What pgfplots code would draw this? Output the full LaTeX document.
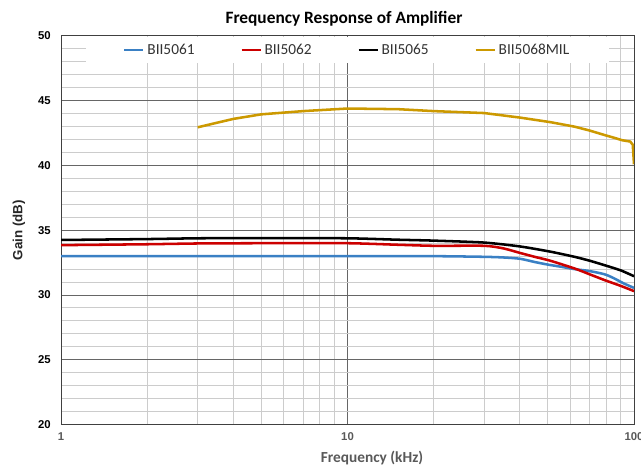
\documentclass[border=0pt]{standalone}
\usepackage{fontspec}
\setmainfont{Carlito}
\newfontfamily\arialf{Liberation Sans}
\usepackage{pgfplots}
\pgfplotsset{compat=1.18}
\definecolor{cblue}{RGB}{58,128,196}
\definecolor{cred}{RGB}{204,0,0}
\definecolor{cgold}{RGB}{204,153,0}
\definecolor{txtgray}{RGB}{89,89,89}
\begin{document}
\begin{tikzpicture}
\begin{axis}[
  name=ax,
  scale only axis, width=429.75pt, height=291.4pt,
  xmode=log, log basis x=10,
  xmin=1, xmax=100, ymin=20, ymax=50,
  xtick={1,10,100}, xticklabels={1,10,100},
  minor xtick={2,3,4,5,6,7,8,9,20,30,40,50,60,70,80,90},
  ytick={20,25,30,35,40,45,50}, yticklabels={20,25,30,35,40,45,50},
  minor ytick={21,22,23,24,26,27,28,29,31,32,33,34,36,37,38,39,41,42,43,44,46,47,48,49},
  grid=both,
  major grid style={draw=black!60, line width=0.75pt},
  minor grid style={draw=black!20, line width=0.75pt},
  major tick length=0pt, minor tick length=0pt,
  axis line style={draw=black!75, line width=0.75pt},
  xticklabel style={font=\arialf\bfseries\fontsize{8.5}{10}\selectfont, text=txtgray, anchor=north, inner sep=0pt, yshift=-6pt},
  yticklabel style={font=\arialf\bfseries\fontsize{8.5}{10}\selectfont, text=black, anchor=east, inner sep=0pt, xshift=-7.5pt},
  xlabel={Frequency (kHz)},
  xlabel style={font=\bfseries\fontsize{11.5}{13}\selectfont, text=txtgray, at={(axis description cs:0.5428,-0.0861)}, anchor=center},
  ylabel={Gain (dB)},
  ylabel style={font=\arialf\bfseries\fontsize{10}{12}\selectfont, text=black!85, at={(axis description cs:-0.0733,0.5)}, anchor=center, rotate=0},
  title={Frequency Response of Amplifier},
  title style={font=\bfseries\fontsize{13}{15}\selectfont, at={(axis description cs:0.4939,1.025)}, anchor=center, yshift=0pt},
  legend columns=4,
  legend style={at={(0.5,0.998)}, anchor=north, draw=none, fill=white,
    font=\fontsize{11.5}{13}\selectfont, text=black!80,
    inner xsep=28pt, inner ysep=3pt,
    /tikz/every even column/.append style={column sep=32.2pt}},
  legend image code/.code={\draw[#1, line width=2pt] (0pt,0pt) -- (14.25pt,0pt);},
  every axis plot/.append style={line width=1.9pt},
]
\addplot[cblue, smooth, tension=0.4] coordinates {
(1,33.0)(2,33.0)(5,33.0)(10,33.0)(20,33.0)(30,32.95)(35,32.9)(40,32.8)(45,32.55)(50,32.35)(55,32.2)(62,32.0)(70,31.85)(79,31.6)(85,31.3)(92,30.9)(100,30.55)};
\addlegendentry{BII5061}
\addplot[cred, smooth, tension=0.4] coordinates {
(1,33.85)(2,33.92)(3,33.98)(5,34.0)(10,34.0)(15,33.88)(20,33.8)(30,33.8)(35,33.6)(40,33.25)(45,32.95)(51,32.65)(62,32.05)(70,31.6)(79,31.15)(90,30.7)(100,30.3)};
\addlegendentry{BII5062}
\addplot[black, smooth, tension=0.4] coordinates {
(1,34.25)(2,34.32)(3,34.38)(5,34.4)(10,34.38)(15,34.27)(20,34.2)(30,34.05)(40,33.75)(51,33.35)(62,32.95)(70,32.65)(79,32.3)(90,31.9)(100,31.45)};
\addlegendentry{BII5065}
\addplot[cgold] coordinates {
(3,42.95)(3.5,43.3)(4,43.6)(5,43.95)(7,44.2)(10,44.4)(15,44.35)(20,44.2)(30,44.05)(40,43.7)(51,43.35)(62,43.0)(70,42.7)(79,42.35)(85,42.15)(91,41.95)(97,41.85)(99,41.6)(100,40.1)};
\addlegendentry{BII5068MIL}
\coordinate (bl) at (rel axis cs:0,0);
\coordinate (tr) at (rel axis cs:1,1);
\end{axis}
\pgfresetboundingbox
\path[use as bounding box] ([xshift=-45.75pt,yshift=-34.1pt]bl) rectangle ([xshift=5.25pt,yshift=27pt]tr);
\end{tikzpicture}
\end{document}
